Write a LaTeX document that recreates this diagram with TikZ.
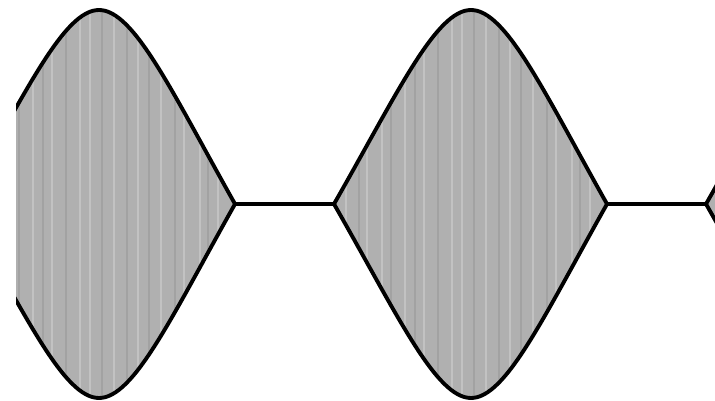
\documentclass[tikz,border=0pt]{standalone}
\usepackage{xcolor}
\usepackage{tikz}
\usetikzlibrary{calc}

\definecolor{lensfill}{RGB}{176,176,176}
\definecolor{lenslight}{RGB}{194,194,194}
\definecolor{lensdark}{RGB}{162,162,162}

% lens outline from its left tip #1 (px)
\newcommand{\lenspath}[1]{%
  (#1,204) .. controls (#1+64,92) and (#1+102,10) .. (#1+137,10)
  .. controls (#1+172,10) and (#1+210,92) .. (#1+273,204)
  .. controls (#1+210,316) and (#1+172,398) .. (#1+137,398)
  .. controls (#1+102,398) and (#1+64,316) .. cycle}

\begin{document}
\begin{tikzpicture}[
  x=0.02cm, y=-0.02cm,
  outline/.style={draw=black, line width=2.2pt, line join=round},
  link/.style={draw=black, line width=2.4pt},
  stripe/.style={line width=1.2pt},
]
\useasboundingbox (0,0) rectangle (715,401);
\clip (16,-5) rectangle (716,406);

% ---- Lenses ----
\foreach \lx [count=\i] in {-38, 334, 706} {
  \begin{scope}
    \clip \lenspath{\lx};
    \fill[lensfill] (\lx,0) rectangle (\lx+274,401);
    \foreach \s in {12, 33, 48, 71, 90, 118, 128, 152, 176, 199, 222, 238, 256}
      \draw[stripe, lenslight] (\lx+\s,0) -- (\lx+\s,401);
    \foreach \s in {25, 57, 81, 104, 140, 165, 187, 213, 246}
      \draw[stripe, lensdark] (\lx+\s,0) -- (\lx+\s,401);
  \end{scope}
  \draw[outline] \lenspath{\lx};
  \coordinate (l\i) at (\lx,204);
  \coordinate (r\i) at (\lx+273,204);
}

% ---- Links ----
\draw[link] (r1) -- (l2);
\draw[link] (r2) -- (l3);

\end{tikzpicture}
\end{document}
